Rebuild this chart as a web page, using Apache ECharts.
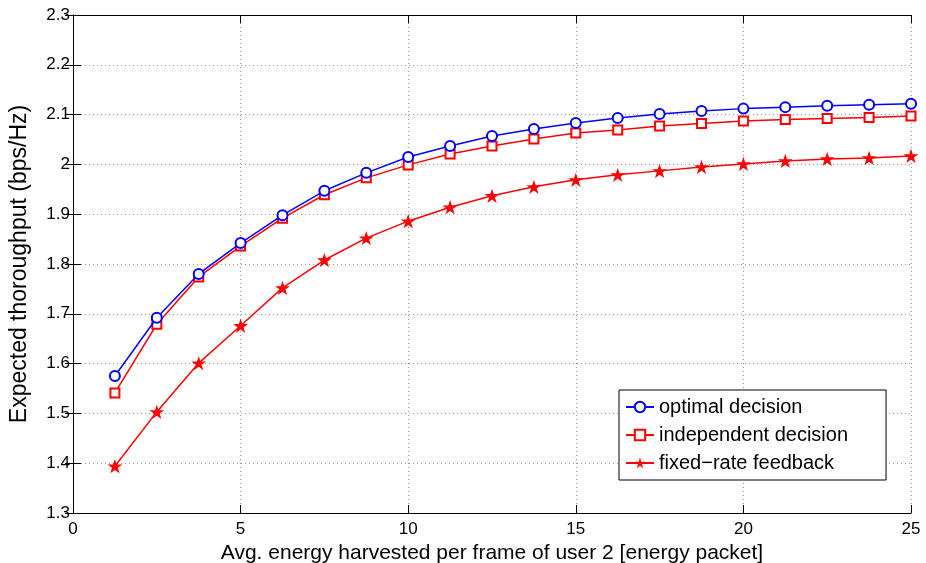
<!DOCTYPE html>
<html>
<head>
<meta charset="utf-8">
<script src="https://cdn.jsdelivr.net/npm/echarts@6/dist/echarts.min.js"></script>
<style>html,body{margin:0;padding:0;background:#fff}#c{width:926px;height:563px}</style>
</head>
<body>
<div id="c"></div>
<script>
const xValues = [1.25,2.5,3.75,5,6.25,7.5,8.75,10,11.25,12.5,13.75,15,16.25,17.5,18.75,20,21.25,22.5,23.75,25];
const optimal = [1.575,1.692,1.780,1.842,1.898,1.947,1.983,2.015,2.037,2.057,2.071,2.083,2.093,2.101,2.107,2.112,2.115,2.118,2.120,2.122];
const independent = [1.541,1.679,1.774,1.836,1.892,1.939,1.973,1.999,2.021,2.037,2.051,2.063,2.069,2.077,2.082,2.087,2.090,2.092,2.094,2.097];
const fixedRate = [1.394,1.503,1.601,1.676,1.752,1.808,1.852,1.886,1.914,1.937,1.955,1.969,1.979,1.987,1.995,2.001,2.007,2.011,2.013,2.017];
const seriesNames = ['optimal decision','independent decision','fixed\u2212rate feedback'];
const xLabel = 'Avg. energy harvested per frame of user 2 [energy packet]';
const yLabel = 'Expected thoroughput (bps/Hz)';

const star = 'path://M0,-1 L0.225,-0.309 L0.951,-0.309 L0.363,0.118 L0.588,0.809 L0,0.382 L-0.588,0.809 L-0.363,0.118 L-0.951,-0.309 L-0.225,-0.309 Z';
const pairs = arr => xValues.map((x,i)=>[x,arr[i]]);
const font = 'Liberation Sans, Arial, Helvetica, sans-serif';
const chart = echarts.init(document.getElementById('c'));
const tickStyle = {inside:true,length:8,lineStyle:{color:'#000',width:1}};
chart.setOption({
  animation:false,
  textStyle:{fontFamily:font},
  grid:{left:73,right:15,top:15,bottom:50,containLabel:false,outerBoundsMode:'none'},
  legend:{
    orient:'vertical',left:619,top:390,
    backgroundColor:'#fff',borderColor:'#000',borderWidth:1,
    padding:[7,38,7,6],itemGap:8,itemWidth:28,itemHeight:13,
    textStyle:{fontSize:20,color:'#000',fontFamily:font},
    data:seriesNames
  },
  xAxis:[{
    type:'value',min:0,max:25,interval:5,
    name:xLabel,nameLocation:'middle',nameGap:12,
    nameTextStyle:{fontSize:21,color:'#000',verticalAlign:'top'},
    axisLine:{lineStyle:{color:'#000',width:1}},
    axisTick:tickStyle,
    axisLabel:{fontSize:17,color:'#000',margin:8},
    splitLine:{show:true,lineStyle:{type:[1,3],color:'#999',width:1}}
  },{
    type:'value',min:0,max:25,interval:5,position:'top',
    axisLine:{show:true,lineStyle:{color:'#000',width:1}},
    axisTick:tickStyle,axisLabel:{show:false},splitLine:{show:false}
  }],
  yAxis:[{
    type:'value',min:1.3,max:2.3,interval:0.1,
    name:yLabel,nameLocation:'middle',nameGap:42,
    nameTextStyle:{fontSize:23,color:'#000'},
    axisLine:{show:true,lineStyle:{color:'#000',width:1}},
    axisTick:tickStyle,
    axisLabel:{fontSize:17,color:'#000',margin:3,formatter:v=>(Math.round(v*10)/10).toString()},
    splitLine:{show:true,lineStyle:{type:[1,3],color:'#999',width:1}}
  },{
    type:'value',min:1.3,max:2.3,interval:0.1,position:'right',
    axisLine:{show:true,lineStyle:{color:'#000',width:1}},
    axisTick:tickStyle,axisLabel:{show:false},splitLine:{show:false}
  }],
  series:[
    {name:seriesNames[0],type:'line',data:pairs(optimal),symbol:'emptyCircle',symbolSize:10,
     lineStyle:{color:'#0000ff',width:1.5},itemStyle:{color:'#0000ff',borderColor:'#0000ff',borderWidth:1.5},z:3},
    {name:seriesNames[1],type:'line',data:pairs(independent),symbol:'emptyRect',symbolSize:9,
     lineStyle:{color:'#ff0000',width:1.5},itemStyle:{color:'#ff0000',borderColor:'#ff0000',borderWidth:1.5},z:2},
    {name:seriesNames[2],type:'line',data:pairs(fixedRate),symbol:star,symbolSize:15,symbolKeepAspect:true,
     lineStyle:{color:'#ff0000',width:1.5},itemStyle:{color:'#ff0000'},z:2}
  ]
});
</script>
</body>
</html>
